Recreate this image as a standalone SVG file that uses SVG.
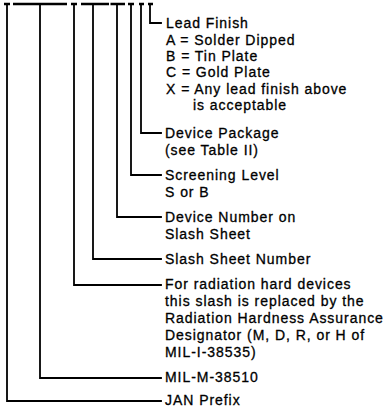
<svg xmlns="http://www.w3.org/2000/svg" width="384" height="414" viewBox="0 0 384 414">
<style>
text{font-family:"Liberation Sans",Arial,sans-serif;font-size:14px;letter-spacing:0.95px;fill:#000;stroke:#000;stroke-width:0.3}
.ln{stroke:#000;stroke-width:1.8;fill:none;stroke-linecap:square}
.bar{stroke:#000;stroke-width:2.6;fill:none}
</style>
<rect width="384" height="414" fill="#fff"/>
<g id="connectors">
<path class="bar" d="M4 4H10M13 4H67M71 4H77M81 4H109M110.5 4H125M128 4H134M139 4H144M148 4H153"/>
<path class="ln" d="M150 4V23H161"/>
<path class="ln" d="M141 4V133H161"/>
<path class="ln" d="M131 4V175H161"/>
<path class="ln" d="M117 4V217H161"/>
<path class="ln" d="M93 4V259H161"/>
<path class="ln" d="M74 4V285H161"/>
<path class="ln" d="M40 4V378H161"/>
<path class="ln" d="M7 4V401H161"/>
</g>
<g id="lead-finish">
<text x="166" y="28">Lead Finish</text>
<text x="166" y="45">A = Solder Dipped</text>
<text x="166" y="61">B = Tin Plate</text>
<text x="166" y="77">C = Gold Plate</text>
<text x="166" y="94">X = Any lead finish above</text>
<text x="193" y="110">is acceptable</text>
</g>
<g id="device-package">
<text x="165" y="138">Device Package</text>
<text x="165" y="155">(see Table II)</text>
</g>
<g id="screening-level">
<text x="165" y="180">Screening Level</text>
<text x="165" y="197">S or B</text>
</g>
<g id="device-number">
<text x="165" y="222">Device Number on</text>
<text x="165" y="239">Slash Sheet</text>
</g>
<g id="slash-sheet-number">
<text x="165" y="264">Slash Sheet Number</text>
</g>
<g id="radiation">
<text x="165" y="289">For radiation hard devices</text>
<text x="165" y="306">this slash is replaced by the</text>
<text x="165" y="323">Radiation Hardness Assurance</text>
<text x="165" y="340">Designator (M, D, R, or H of</text>
<text x="165" y="357">MIL-I-38535)</text>
</g>
<g id="mil-m">
<text x="165" y="382">MIL-M-38510</text>
</g>
<g id="jan-prefix">
<text x="165" y="405">JAN Prefix</text>
</g>
</svg>
